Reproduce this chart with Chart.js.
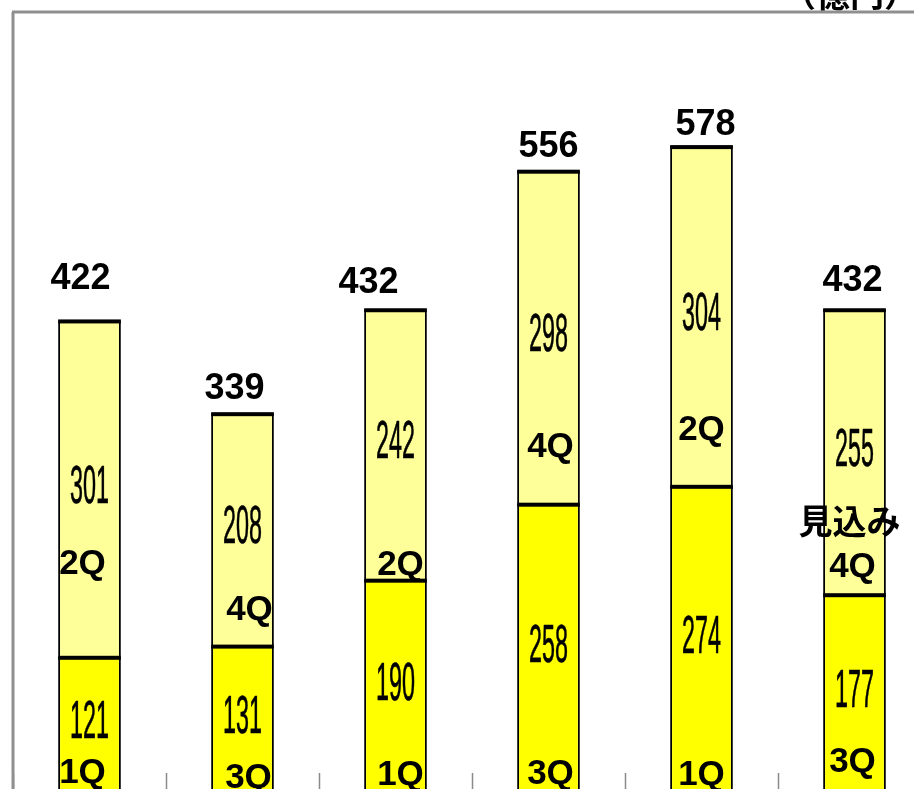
<!DOCTYPE html>
<html>
<head>
<meta charset="utf-8">
<script src="https://cdn.jsdelivr.net/npm/chart.js@4.4.1/dist/chart.umd.min.js"></script>
<style>
  html, body { margin:0; padding:0; background:#fff; overflow:hidden; }
  #wrap { width:960px; height:800px; }
</style>
</head>
<body>
<div id="wrap"><canvas id="chart" width="960" height="800"></canvas></div>
<script>
// datos del gráfico (億円)
const categories = ['1', '2', '3', '4', '5', '6'];
const lowerValues = [121, 131, 190, 258, 274, 177];
const upperValues = [301, 208, 242, 298, 304, 255];
const totals = [422, 339, 432, 556, 578, 432];
const lowerQuarter = ['1Q', '3Q', '1Q', '3Q', '1Q', '3Q'];
const upperQuarter = ['2Q', '4Q', '2Q', '4Q', '2Q', '4Q'];
const notes = ['', '', '', '', '', '見込み'];
const unitLabel = '（億円）';
const yMax = 698;

// ajustes de posición de etiquetas (px), como en el original
const totalOffset = [[-9, 44], [-8, 27], [-27, 29], [0, 27], [4, 24], [-2, 31]];
const upperQOffset = [[-7, 95], [7, 38], [5, 17], [2, 59], [0, 58], [-2, 29]];
const lowerQOffset = [[-7, 9], [6, 4], [5, 7], [2, 8], [0, 7], [-2, 20]];
const noteOffset = [-5, 72];

const BOLD = 'bold 36px "Liberation Sans", Arial, sans-serif';
const QFONT = 'bold 35px "Liberation Sans", Arial, sans-serif';

const labelPlugin = {
  id: 'labels',
  beforeDatasetsDraw(chart) {
    const { ctx, chartArea } = chart;
    const w = (chartArea.right - chartArea.left) / categories.length;
    ctx.save();
    ctx.strokeStyle = '#8a8a8a';
    ctx.lineWidth = 1.5;
    for (let i = 0; i <= categories.length; i++) {
      const x = Math.round(chartArea.left + i * w) + 0.5;
      ctx.beginPath();
      ctx.moveTo(x, chartArea.bottom - 19);
      ctx.lineTo(x, chartArea.bottom);
      ctx.stroke();
    }
    ctx.restore();
  },
  afterDatasetsDraw(chart) {
    const { ctx, chartArea } = chart;
    const low = chart.getDatasetMeta(0).data;
    const up = chart.getDatasetMeta(1).data;
    ctx.save();

    // ejes: línea superior y línea izquierda
    ctx.strokeStyle = '#8f8f8f';
    ctx.lineWidth = 3;
    ctx.beginPath();
    ctx.moveTo(chartArea.left - 1, chartArea.top);
    ctx.lineTo(chart.width, chartArea.top);
    ctx.moveTo(chartArea.left, chartArea.top);
    ctx.lineTo(chartArea.left, chartArea.bottom);
    ctx.stroke();

    // líneas gruesas en el borde superior de cada segmento
    ctx.fillStyle = '#000';
    [...low, ...up].forEach(bar => {
      ctx.fillRect(bar.x - bar.width / 2, bar.y - 1, bar.width, 4);
    });

    ctx.strokeStyle = '#000';
    ctx.textAlign = 'center';
    ctx.textBaseline = 'alphabetic';

    categories.forEach((c, i) => {
      const lb = low[i], ub = up[i];

      // valores de cada segmento (fuente estrecha)
      [[lb, lowerValues[i]], [ub, upperValues[i]]].forEach(([bar, v]) => {
        const cy = (bar.y + bar.base) / 2 - 5;
        ctx.save();
        ctx.translate(bar.x, cy + 19);
        ctx.scale(0.44, 1);
        ctx.font = '53px "Liberation Sans", Arial, sans-serif';
        ctx.lineWidth = 0.7;
        ctx.fillText(String(v), 0, 0);
        ctx.strokeText(String(v), 0, 0);
        ctx.restore();
      });

      // total
      ctx.font = BOLD;
      ctx.fillText(String(totals[i]), ub.x + totalOffset[i][0], ub.y - totalOffset[i][1] + 13);

      // trimestres
      ctx.font = QFONT;
      ctx.fillText(upperQuarter[i], ub.x + upperQOffset[i][0], lb.y - upperQOffset[i][1] + 12);
      ctx.fillText(lowerQuarter[i], lb.x + lowerQOffset[i][0], lb.base - lowerQOffset[i][1]);

      if (notes[i]) {
        ctx.font = 'bold 34px "Noto Sans CJK JP", sans-serif';
        ctx.fillText(notes[i], ub.x + noteOffset[0], lb.y - noteOffset[1] + 12);
      }
    });

    // unidad, cortada arriba
    ctx.font = 'bold 34px "Noto Sans CJK JP", sans-serif';
    ctx.textAlign = 'right';
    ctx.fillText(unitLabel, 918, 7);
    ctx.restore();
  }
};

const border = { top: 2, left: 2, right: 2, bottom: 0 };

new Chart(document.getElementById('chart'), {
  type: 'bar',
  data: {
    labels: categories,
    datasets: [
      {
        label: 'lower',
        data: lowerValues,
        backgroundColor: '#ffff00',
        borderColor: '#000',
        borderWidth: border,
        borderSkipped: 'start'
      },
      {
        label: 'upper',
        data: upperValues,
        backgroundColor: '#ffff99',
        borderColor: '#000',
        borderWidth: border,
        borderSkipped: 'start'
      }
    ]
  },
  options: {
    responsive: false,
    animation: false,
    devicePixelRatio: 1,
    layout: { padding: { left: 13, top: 12, right: 29, bottom: 8 } },
    datasets: { bar: { categoryPercentage: 1, barPercentage: 0.41 } },
    plugins: { legend: { display: false }, tooltip: { enabled: false } },
    scales: {
      x: { display: false, stacked: true },
      y: { display: false, stacked: true, min: 0, max: yMax }
    }
  },
  plugins: [labelPlugin]
});
</script>
</body>
</html>
